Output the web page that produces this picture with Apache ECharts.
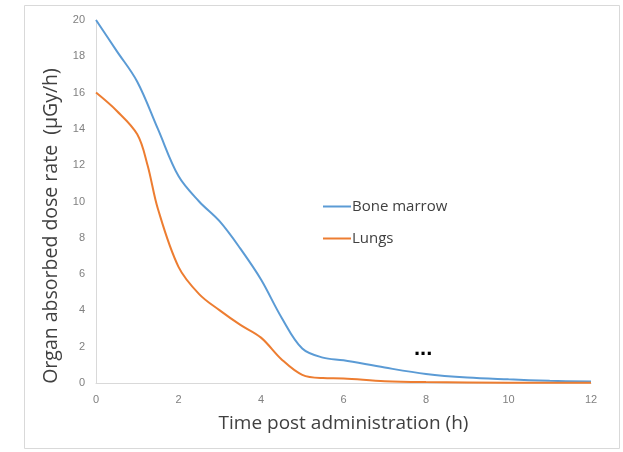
<!DOCTYPE html>
<html><head><meta charset="utf-8">
<script src="https://cdn.jsdelivr.net/npm/echarts@6/dist/echarts.min.js"></script>
<style>html,body{margin:0;padding:0;background:#fff}#c{width:623px;height:452px}</style>
</head><body><div id="c"></div>
<script>
const seriesNames = ['Bone marrow', 'Lungs'];
const xTitle = 'Time post administration (h)';
const yTitle = 'Organ absorbed dose rate  (µGy/h)';
const boneMarrow = [[0,20],[0.5,18.3],[1,16.6],[1.5,14],[2,11.4],[2.5,10],[3,8.9],[3.5,7.4],[4,5.7],[4.5,3.6],[5,1.9],[5.5,1.4],[6,1.25],[7,0.85],[8,0.5],[9,0.3],[10,0.2],[11,0.12],[12,0.08]];
const lungs = [[0,16],[0.5,15],[1,13.7],[1.25,12],[1.5,9.6],[2,6.4],[2.5,4.9],[3,4.0],[3.5,3.2],[4,2.5],[4.5,1.3],[5,0.45],[5.5,0.27],[6,0.25],[7,0.1],[8,0.05],[10,0.02],[12,0.01]];
const xTicks = [0,2,4,6,8,10,12];
const yTicks = [0,2,4,6,8,10,12,14,16,18,20];

const chart = echarts.init(document.getElementById('c'));
chart.setOption({
  animation:false,
  backgroundColor:'#fff',
  graphic:[
    {type:'rect',shape:{x:24.5,y:5.5,width:595,height:443},style:{fill:'none',stroke:'#d9d9d9',lineWidth:1}},
    {type:'text',left:414,top:338,style:{text:'...',font:'bold 22px "Liberation Sans"',fill:'#000'}},
    {type:'text',x:51,y:226,rotation:Math.PI/2,style:{text:yTitle,font:'19.5px "Open Sans"',fill:'#404040',align:'center',verticalAlign:'middle'}}
  ],
  grid:{left:96,right:32,top:20,bottom:69},
  legend:{
    orient:'vertical',left:318,top:194,itemWidth:28,itemHeight:2,itemGap:17,
    icon:'rect',
    textStyle:{fontSize:15,color:'#404040',fontFamily:'"Open Sans"',padding:[0,0,0,-4]},
    data:seriesNames
  },
  xAxis:{
    type:'value',min:0,max:12,interval:2,
    name:xTitle,nameLocation:'middle',nameGap:31,
    nameTextStyle:{fontSize:19,color:'#404040',fontFamily:'"Open Sans"'},
    axisLine:{lineStyle:{color:'#d9d9d9'}},axisTick:{show:false},splitLine:{show:false},
    axisLabel:{color:'#808080',fontSize:11,margin:11,formatter:v=>xTicks.includes(v)?String(v):''}
  },
  yAxis:{
    type:'value',min:0,max:20,interval:2,
    axisLine:{show:true,lineStyle:{color:'#d9d9d9'}},axisTick:{show:false},splitLine:{show:false},
    axisLabel:{color:'#808080',fontSize:11,margin:11,formatter:v=>yTicks.includes(v)?String(v):''}
  },
  series:[
    {name:seriesNames[0],type:'line',data:boneMarrow,smooth:0.35,showSymbol:false,symbol:'none',
     lineStyle:{color:'#5B9BD5',width:2},itemStyle:{color:'#5B9BD5'}},
    {name:seriesNames[1],type:'line',data:lungs,smooth:0.35,showSymbol:false,symbol:'none',
     lineStyle:{color:'#ED7D31',width:2},itemStyle:{color:'#ED7D31'}}
  ]
});
</script></body></html>
